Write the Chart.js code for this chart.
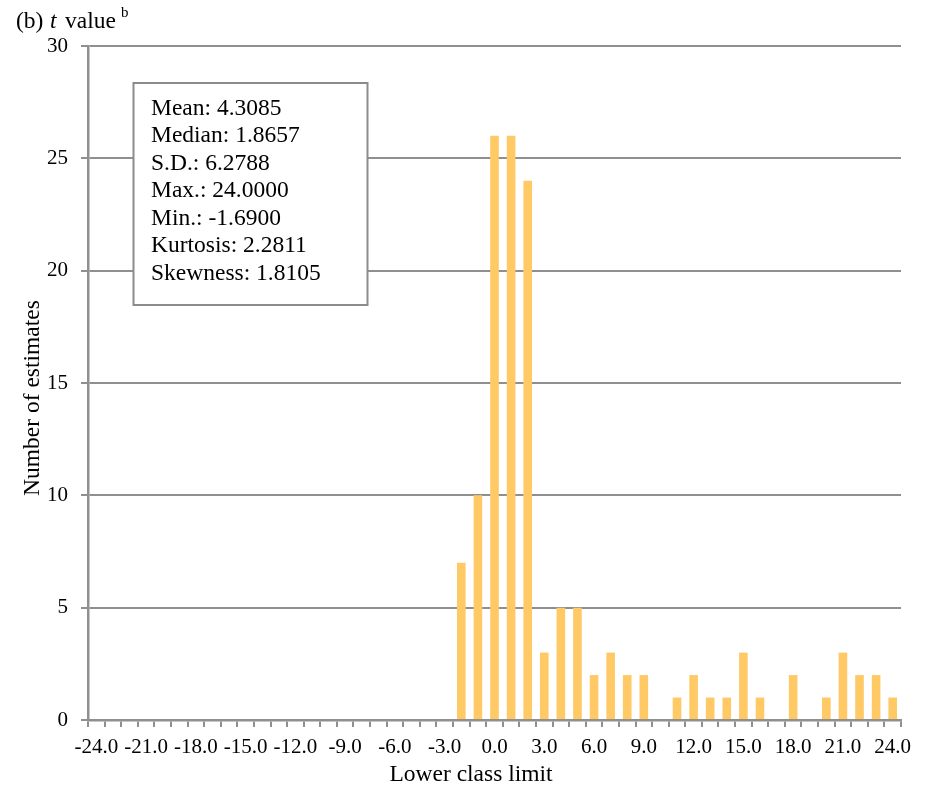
<!DOCTYPE html>
<html>
<head>
<meta charset="utf-8">
<script src="https://cdn.jsdelivr.net/npm/chart.js@4.4.1/dist/chart.umd.min.js"></script>
<style>
html,body{margin:0;padding:0;background:#fff;}
#wrap{width:930px;height:792px;}
</style>
</head>
<body>
<div id="wrap"><canvas id="c" width="930" height="792"></canvas></div>
<script>
// Lower class limits (categories)
const classLimits = [-24,-23,-22,-21,-20,-19,-18,-17,-16,-15,-14,-13,-12,-11,-10,-9,-8,-7,-6,-5,-4,-3,-2,-1,0,1,2,3,4,5,6,7,8,9,10,11,12,13,14,15,16,17,18,19,20,21,22,23,24];
// Number of estimates per class
const counts = [0,0,0,0,0,0,0,0,0,0,0,0,0,0,0,0,0,0,0,0,0,0,7,10,26,26,24,3,5,5,2,3,2,2,0,1,2,1,1,3,1,0,2,0,1,3,2,2,1];
const yTicks = [0,5,10,15,20,25,30];
const statLines = ["Mean: 4.3085","Median: 1.8657","S.D.: 6.2788","Max.: 24.0000","Min.: -1.6900","Kurtosis: 2.2811","Skewness: 1.8105"];
const titleParts = {prefix:"(b)", italic:"t", rest:"value", sup:"b"};
const xTitle = "Lower class limit";
const yTitle = "Number of estimates";

const SERIF = "'Liberation Serif','Times New Roman',serif";
const GRID = '#8f8f8f';

const overlay = {
  id:'overlay',
  afterDraw(chart){
    const ctx = chart.ctx;
    ctx.save();
    // Stats box
    const bx=133.5, by=83, bw=234, bh=222;
    ctx.fillStyle='#fff';
    ctx.fillRect(bx,by,bw,bh);
    ctx.strokeStyle='#8c8c8c';
    ctx.lineWidth=2;
    ctx.strokeRect(bx,by,bw,bh);
    ctx.fillStyle='#000';
    ctx.font="23.5px "+SERIF;
    ctx.textBaseline='alphabetic';
    ctx.textAlign='left';
    statLines.forEach((s,i)=>ctx.fillText(s,151,114.5+i*27.5));
    // Title
    ctx.font="23.5px "+SERIF;
    ctx.fillText(titleParts.prefix,16,28);
    ctx.font="italic 23.5px "+SERIF;
    ctx.fillText(titleParts.italic,50,28);
    ctx.font="23.5px "+SERIF;
    const vx=65;
    ctx.fillText(titleParts.rest,vx,28);
    const vw=ctx.measureText(titleParts.rest).width;
    ctx.font="15px "+SERIF;
    ctx.fillText(titleParts.sup,vx+vw+5,17);
    // Axis titles
    ctx.font="23.5px "+SERIF;
    ctx.textAlign='center';
    ctx.textBaseline='middle';
    ctx.fillText(xTitle,471,775);
    ctx.translate(33,398);
    ctx.rotate(-Math.PI/2);
    ctx.fillText(yTitle,0,0);
    ctx.restore();
  }
};

new Chart(document.getElementById('c'),{
  type:'bar',
  data:{
    labels:classLimits,
    datasets:[{data:counts,backgroundColor:'#ffc966',borderWidth:0,barPercentage:0.52,categoryPercentage:1.0}]
  },
  options:{
    responsive:false,
    animation:false,
    events:[],
    layout:{padding:{top:46,right:29,left:0,bottom:0}},
    plugins:{legend:{display:false},tooltip:{enabled:false},title:{display:false}},
    scales:{
      x:{
        offset:true,
        afterFit(s){s.height=72;},
        grid:{offset:true,drawOnChartArea:false,drawTicks:true,tickLength:7,color:GRID,tickColor:GRID,lineWidth:2},
        border:{display:true,color:GRID,width:2.5},
        ticks:{autoSkip:false,maxRotation:0,minRotation:0,padding:8,color:'#000',font:{family:SERIF,size:21},
          callback(v,i){return i%3===0 ? classLimits[i].toFixed(1) : '';}}
      },
      y:{
        min:0,max:30,
        afterFit(s){s.width=88;},
        afterBuildTicks(s){s.ticks=yTicks.map(v=>({value:v}));},
        grid:{color:GRID,lineWidth:2,drawTicks:true,tickLength:7,tickColor:GRID},
        border:{display:true,color:GRID,width:2.5},
        ticks:{padding:13,color:'#000',font:{family:SERIF,size:21}}
      }
    }
  },
  plugins:[overlay]
});
</script>
</body>
</html>
